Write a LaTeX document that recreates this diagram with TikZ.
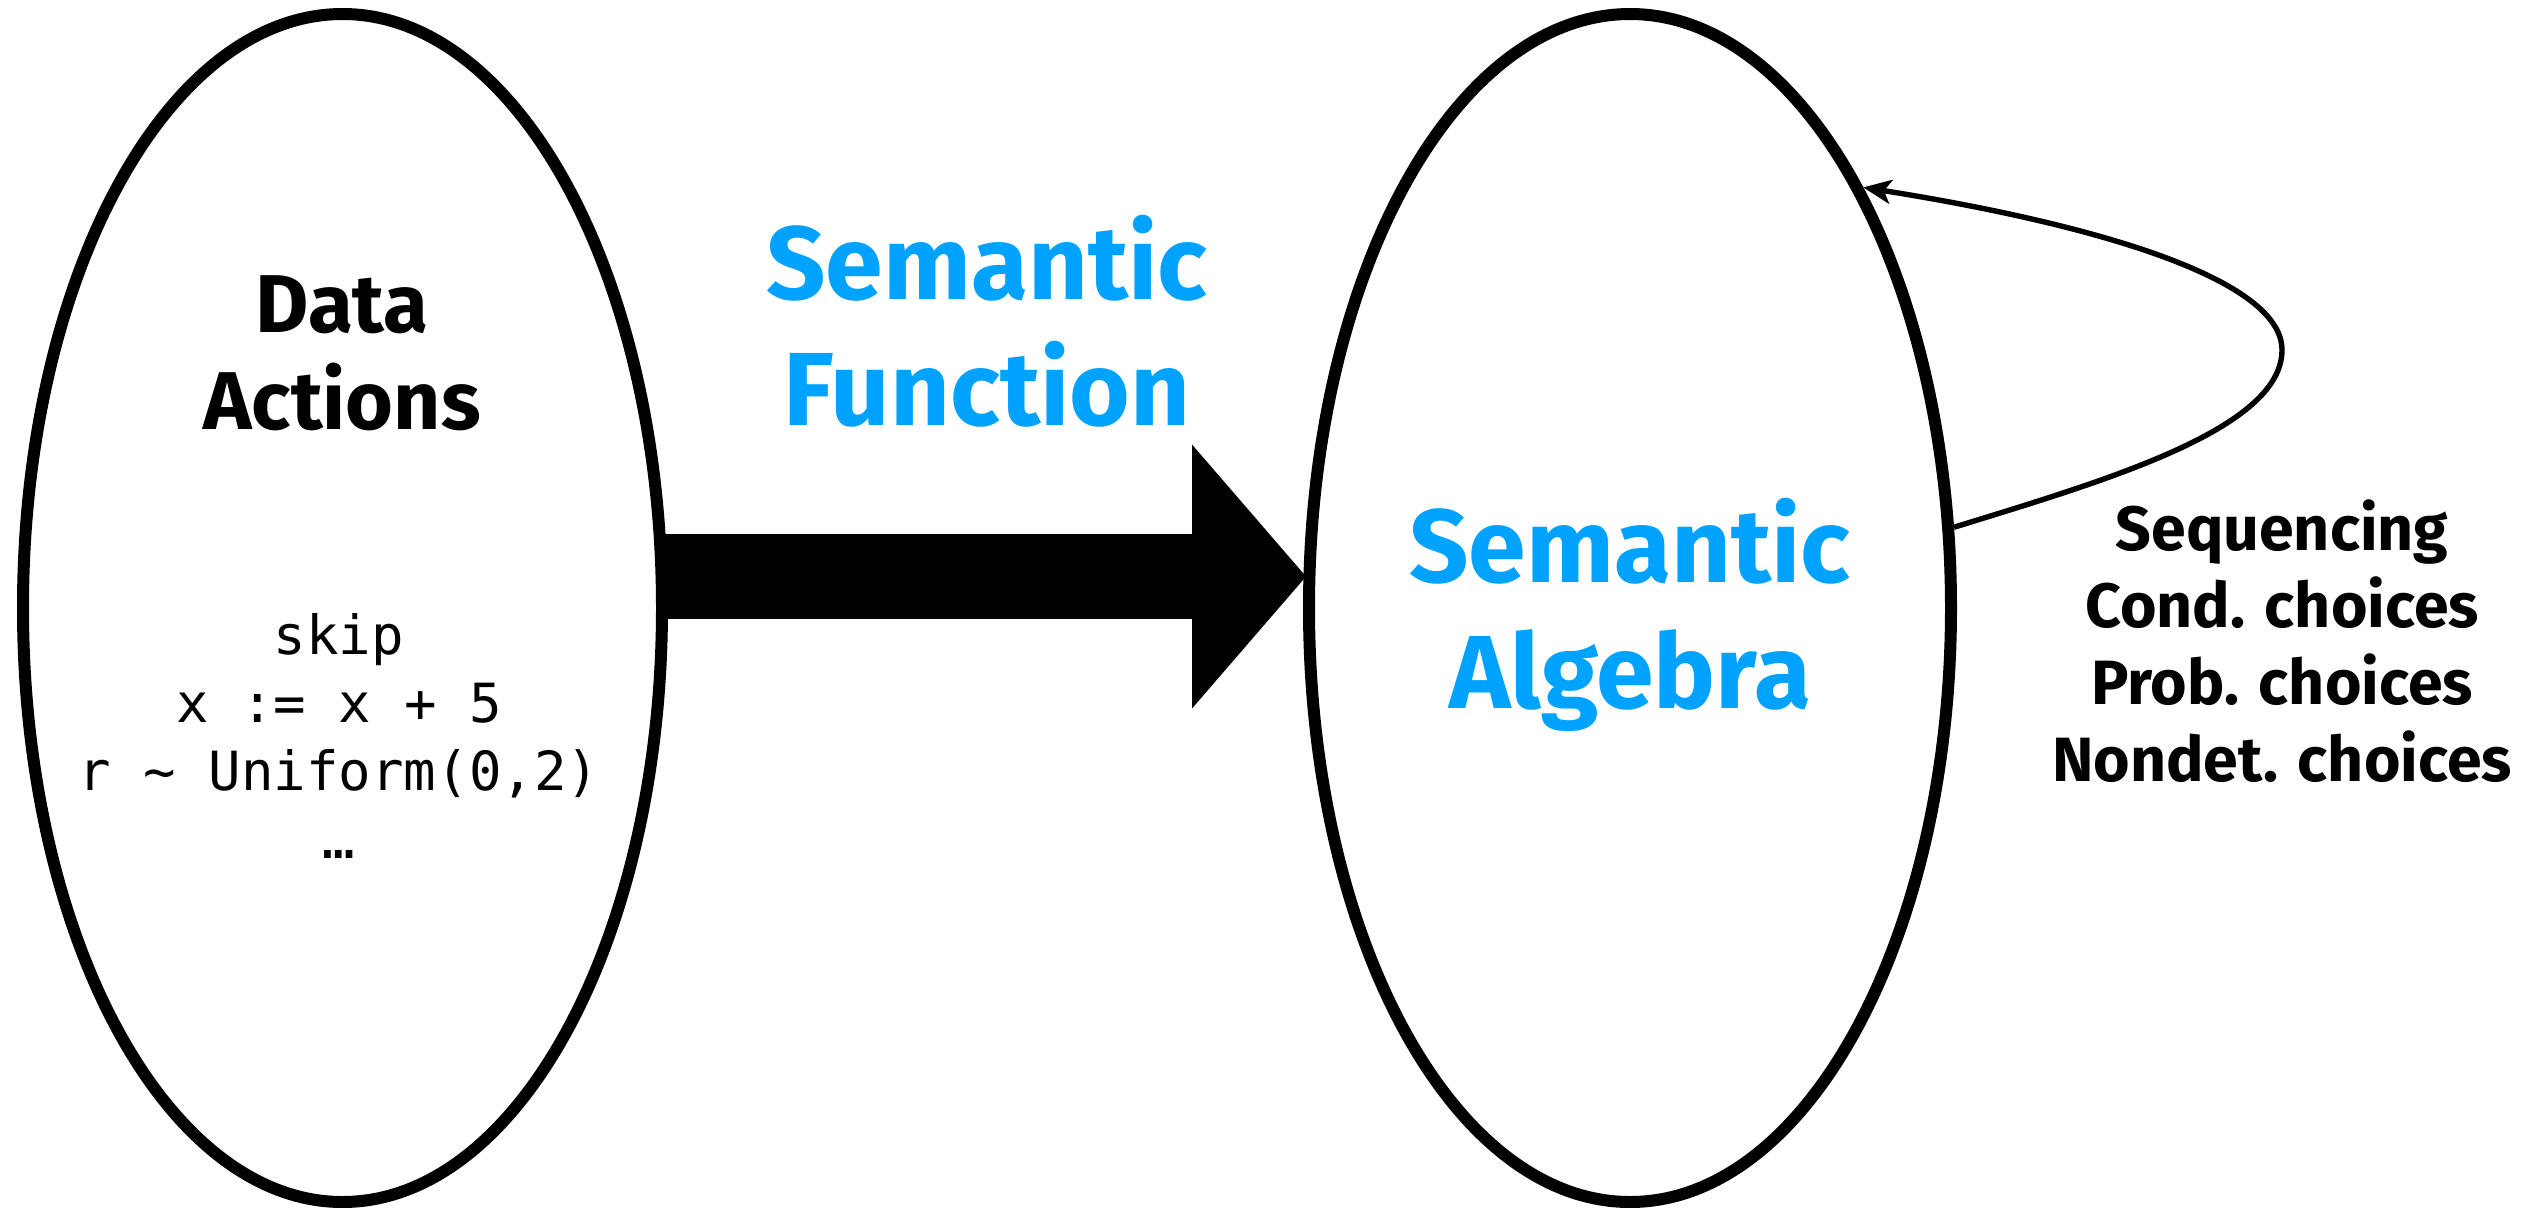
\documentclass[tikz,border=0pt]{standalone}
\usepackage{fontspec}
\setmainfont{Fira Sans}
\newfontfamily\codefont{DejaVu Sans Mono}
\usetikzlibrary{shapes.geometric,arrows.meta,calc}
\definecolor{semblue}{RGB}{0,162,255}
\begin{document}
\begin{tikzpicture}[x=0.5pt,y=-0.5pt,
  setoval/.style={draw, ellipse, line width=6pt, inner sep=0pt},
  boldtext/.style={inner sep=0pt, align=center, font=\bfseries},
  bigtitle/.style={boldtext, text=semblue, font=\fontsize{52pt}{63pt}\selectfont\bfseries},
  codetext/.style={inner sep=0pt, align=center, font=\codefont\fontsize{27pt}{34pt}\selectfont},
  mapsto/.style={line width=42.5pt, -{Triangle[length=57pt,width=132pt,line width=0pt]}},
  loopedge/.style={line width=2.7pt, -{Stealth[length=14pt,width=12pt,inset=3.5pt]}}]
\useasboundingbox (0,0) rectangle (2534,1207);

% the two sets
\node[setoval, minimum width=319.5pt, minimum height=594pt] (L) at (342.5,608) {};
\node[setoval, minimum width=321pt, minimum height=594pt] (R) at (1630,608) {};

% texts
\node[boldtext, font=\fontsize{41pt}{48.5pt}\selectfont\bfseries] (da) at (342,353.5) {Data\\Actions};
\node[codetext] (acts) at (339,735.5) {skip\\x := x + 5\\r \textasciitilde{} Uniform(0,2)\\…};
\node[bigtitle] (sf) at (987,321) {Semantic\\Function};
\node[bigtitle] (sa) at (1630,615) {Semantic\\Algebra};
\node[boldtext, font=\fontsize{31.3pt}{38.5pt}\selectfont\bfseries] (ops) at (2282,641)
  {Sequencing\\Cond. choices\\Prob. choices\\Nondet. choices};

% the semantic function arrow
\draw[mapsto] ($(L.east)+(-6,-31.5)$) -- ($(R.west)+(3,-31.5)$);

% operations of the algebra: self loop
\coordinate (turn) at (2282,350);
\draw[loopedge] (R.14) .. controls (2100,482) and (2282,430) .. (turn)
  .. controls (2282,280) and (2100,225) .. (R.61);
\end{tikzpicture}
\end{document}
